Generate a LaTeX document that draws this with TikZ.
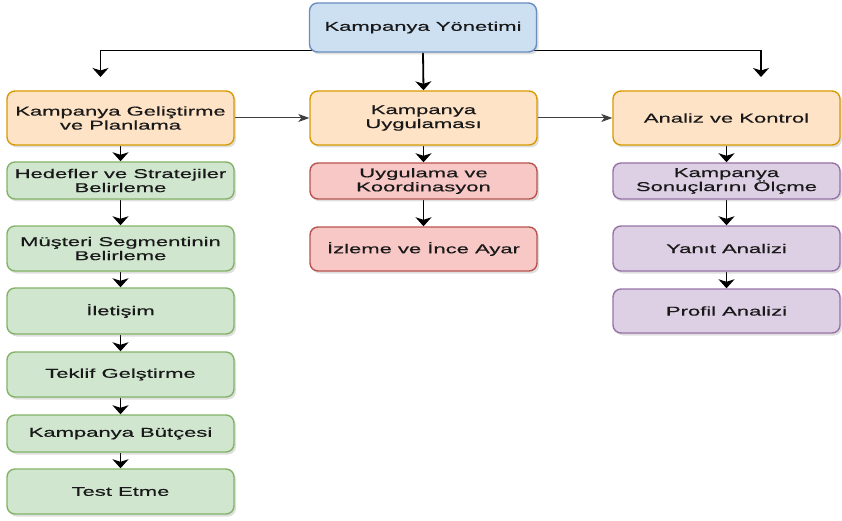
\documentclass[tikz,border=0pt]{standalone}
\usepackage{fontspec}
\setmainfont{Liberation Sans}[FakeStretch=1.72,FakeBold=0.4]
\usetikzlibrary{arrows.meta,shadows,backgrounds}
\definecolor{bluef}{HTML}{CCE0F2}
\definecolor{bluel}{HTML}{6C8EBF}
\definecolor{orf}{HTML}{FFE3C6}
\definecolor{orl}{HTML}{D79B00}
\definecolor{grf}{HTML}{D0E6CF}
\definecolor{grl}{HTML}{82B366}
\definecolor{rdf}{HTML}{F8C8C6}
\definecolor{rdl}{HTML}{B85450}
\definecolor{puf}{HTML}{DDD0E5}
\definecolor{pul}{HTML}{9673A6}
\tikzset{
  box/.style={draw, rounded corners=8pt, line width=1.4pt, minimum width=227pt,
    inner sep=0pt, align=center, font=\fontsize{12.8}{14}\selectfont, text=black!90,
    drop shadow={shadow xshift=2pt, shadow yshift=-2.5pt, opacity=0.25}},
  bluebox/.style={box, fill=bluef, draw=bluel},
  orbox/.style={box, fill=orf, draw=orl},
  grbox/.style={box, fill=grf, draw=grl},
  rdbox/.style={box, fill=rdf, draw=rdl},
  pubox/.style={box, fill=puf, draw=pul},
  arr/.style={draw=black, line width=1.8pt, -{Stealth[length=9pt,width=16pt,inset=2.5pt]}},
  earr/.style={draw=black, line width=1.4pt, -{Stealth[length=9pt,width=16pt,inset=2.5pt]}},
  harr/.style={draw=black!75, line width=1pt, -{Stealth[length=11pt,width=8pt,inset=3pt]}}
}
\begin{document}
\begin{tikzpicture}[x=1pt,y=-1pt]
\useasboundingbox (0,0) rectangle (842,521);
\node[bluebox, minimum height=49pt] (top) at (423,27.5) {Kampanya Yönetimi};
\node[orbox, minimum height=54pt] (L0) at (120.5,118) {Kampanya Geliştirme\\ve Planlama};
\node[orbox, minimum height=54pt] (M0) at (423.5,118) {Kampanya\\Uygulaması};
\node[orbox, minimum height=54pt] (R0) at (726.5,118) {Analiz ve Kontrol};
\node[grbox, minimum height=37pt] (L1) at (120.5,180.5) {Hedefler ve Stratejiler\\Belirleme};
\node[grbox, minimum height=45pt] (L2) at (120.5,248.5) {Müşteri Segmentinin\\Belirleme};
\node[grbox, minimum height=46pt] (L3) at (120.5,311) {İletişim};
\node[grbox, minimum height=45pt] (L4) at (120.5,374.5) {Teklif Gelştirme};
\node[grbox, minimum height=37pt] (L5) at (120.5,433.5) {Kampanya Bütçesi};
\node[grbox, minimum height=45pt] (L6) at (120.5,491.5) {Test Etme};
\node[rdbox, minimum height=36pt] (M1) at (423.5,181) {Uygulama ve\\Koordinasyon};
\node[rdbox, minimum height=44pt] (M2) at (423.5,249) {İzleme ve İnce Ayar};
\node[pubox, minimum height=36pt] (R1) at (726.5,181) {Kampanya\\Sonuçlarını Ölçme};
\node[pubox, minimum height=45pt] (R2) at (726.5,248.5) {Yanıt Analizi};
\node[pubox, minimum height=44pt] (R3) at (726.5,311) {Profil Analizi};
\coordinate (cL) at (100.5,77);
\coordinate (cR) at (761,77);
\begin{scope}[on background layer]
\draw[earr] (top.center |- 0,50.5) -| (cL);
\draw[earr] (top.center |- 0,50.5) -| (cR);
\draw[arr] (top.south) -- (M0.north);
\draw[harr] (L0.east) -- (M0.west);
\draw[harr] (M0.east) -- (R0.west);
\draw[arr] (L0) -- (L1);
\draw[arr] (L1) -- (L2);
\draw[arr] (L2) -- (L3);
\draw[arr] (L3) -- (L4);
\draw[arr] (L4) -- (L5);
\draw[arr] (L5) -- (L6);
\draw[arr] (M0) -- (M1);
\draw[arr] (M1) -- (M2);
\draw[arr] (R0) -- (R1);
\draw[arr] (R1) -- (R2);
\draw[arr] (R2) -- (R3);
\end{scope}
\end{tikzpicture}
\end{document}
